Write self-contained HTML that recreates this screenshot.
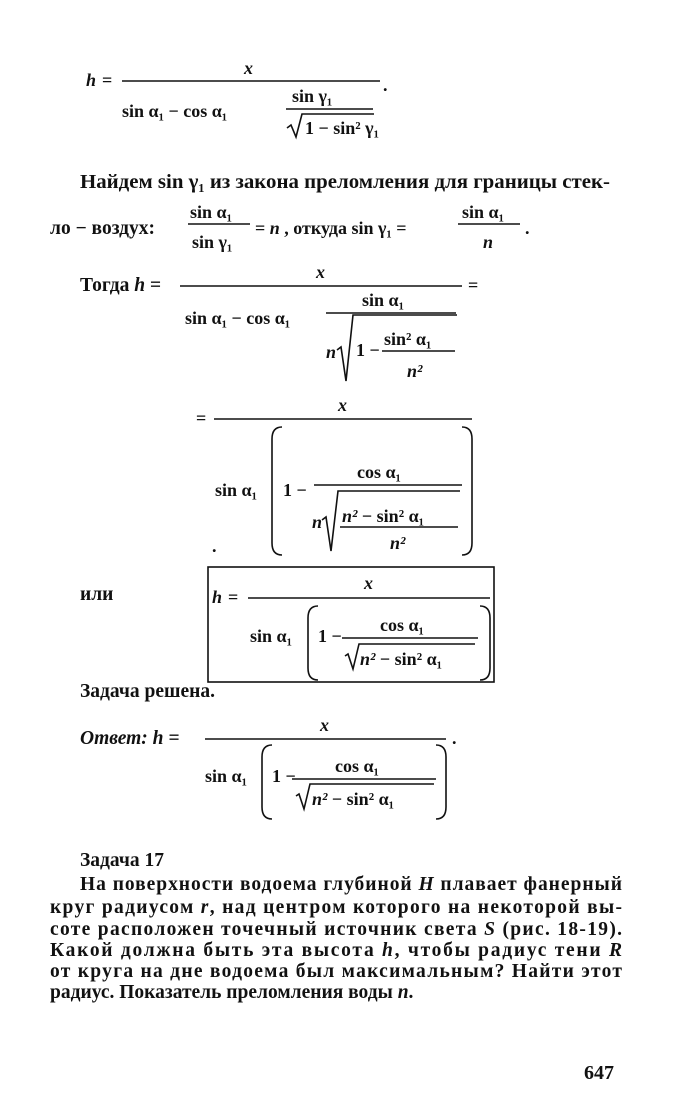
<!DOCTYPE html>
<html><head><meta charset="utf-8"><style>
html,body{margin:0;padding:0;background:#fff;}
svg{display:block}
text{font-family:"Liberation Serif",serif;font-weight:bold;font-size:18px;fill:#111}
.p{font-size:19.5px}
.i{font-style:italic}
line,path,rect{stroke:#111;fill:none;stroke-width:1.6}
</style></head><body>
<svg width="677" height="1116" viewBox="0 0 677 1116">
<text x="86" y="86" class="i">h</text><text x="102" y="86">=</text>
<line x1="122" y1="81" x2="380" y2="81"/>
<text x="244" y="74" class="i">x</text>
<text x="122" y="117">sin α₁ − cos α₁</text>
<text x="292" y="102">sin γ₁</text>
<line x1="286" y1="109" x2="373" y2="109"/>
<path d="M287,128 l4,-3 l5,12 l6,-23 h72"/>
<text x="305" y="134">1 − sin² γ₁</text>
<text x="383" y="91">.</text>

<text x="80" y="188" class="p" textLength="530" lengthAdjust="spacingAndGlyphs">Найдем sin γ₁ из закона преломления для границы стек-</text>
<text x="50" y="234" class="p">ло − воздух:</text>
<text x="190" y="218">sin α₁</text>
<line x1="188" y1="224" x2="250" y2="224"/>
<text x="192" y="248">sin γ₁</text>
<text x="255" y="234">= <tspan class="i">n</tspan> , откуда  sin γ₁ =</text>
<text x="462" y="218">sin α₁</text>
<line x1="458" y1="224" x2="520" y2="224"/>
<text x="483" y="248" class="i">n</text>
<text x="525" y="234">.</text>

<text x="80" y="291" class="p">Тогда <tspan class="i">h</tspan> =</text>
<line x1="180" y1="286" x2="462" y2="286"/>
<text x="316" y="278" class="i">x</text>
<text x="468" y="291">=</text>
<text x="185" y="324">sin α₁ − cos α₁</text>
<text x="362" y="306">sin α₁</text>
<line x1="326" y1="313" x2="456" y2="313"/>
<text x="326" y="358" class="i">n</text>
<path d="M337,350 l4,-3 l5,34 l7,-66 h104"/>
<text x="356" y="356">1 −</text>
<text x="384" y="345">sin² α₁</text>
<line x1="382" y1="351" x2="455" y2="351"/>
<text x="407" y="377" class="i">n²</text>

<text x="196" y="424">=</text>
<line x1="214" y1="419" x2="472" y2="419"/>
<text x="338" y="411" class="i">x</text>
<path d="M282,427 q-10,0 -10,12 v104 q0,12 10,12"/>
<path d="M462,427 q10,0 10,12 v104 q0,12 -10,12"/>
<text x="215" y="496">sin α₁</text>
<text x="283" y="496">1 −</text>
<text x="357" y="478">cos α₁</text>
<line x1="314" y1="485" x2="462" y2="485"/>
<text x="312" y="528" class="i">n</text>
<path d="M322,520 l4,-3 l5,34 l7,-60 h122"/>
<text x="342" y="522"><tspan class="i">n²</tspan> − sin² α₁</text>
<line x1="340" y1="527" x2="458" y2="527"/>
<text x="390" y="549" class="i">n²</text>
<text x="212" y="552">.</text>

<text x="80" y="600" class="p">или</text>
<rect x="208" y="567" width="286" height="115"/>
<text x="212" y="603" class="i">h</text><text x="228" y="603">=</text>
<line x1="248" y1="598" x2="490" y2="598"/>
<text x="364" y="589" class="i">x</text>
<path d="M318,606 q-10,0 -10,12 v50 q0,12 10,12"/>
<path d="M480,606 q10,0 10,12 v50 q0,12 -10,12"/>
<text x="250" y="642">sin α₁</text>
<text x="318" y="642">1 −</text>
<text x="380" y="631">cos   α₁</text>
<line x1="342" y1="638" x2="478" y2="638"/>
<path d="M345,656 l3,-2 l5,15 l6,-25 h116"/>
<text x="360" y="665"><tspan class="i">n²</tspan> − sin² α₁</text>

<text x="80" y="697" class="p">Задача решена.</text>

<text x="80" y="744" class="i p">Ответ: h =</text>
<line x1="205" y1="739" x2="446" y2="739"/>
<text x="320" y="731" class="i">x</text>
<text x="452" y="744">.</text>
<path d="M272,745 q-10,0 -10,12 v50 q0,12 10,12"/>
<path d="M436,745 q10,0 10,12 v50 q0,12 -10,12"/>
<text x="205" y="782">sin α₁</text>
<text x="272" y="782">1 −</text>
<text x="335" y="772">cos  α₁</text>
<line x1="292" y1="779" x2="436" y2="779"/>
<path d="M296,796 l3,-2 l5,15 l6,-25 h124"/>
<text x="312" y="805"><tspan class="i">n²</tspan> − sin² α₁</text>

<text x="80" y="866" class="p">Задача 17</text>
<text x="80" y="890" class="p" textLength="542" lengthAdjust="spacing">На поверхности водоема глубиной <tspan class="i">H</tspan> плавает фанерный</text>
<text x="50" y="913" class="p" textLength="572" lengthAdjust="spacing">круг радиусом <tspan class="i">r</tspan>, над центром которого на некоторой вы-</text>
<text x="50" y="935" class="p" textLength="572" lengthAdjust="spacing">соте расположен точечный источник света <tspan class="i">S</tspan> (рис. 18-19).</text>
<text x="50" y="956" class="p" textLength="572" lengthAdjust="spacing">Какой должна быть эта высота <tspan class="i">h</tspan>, чтобы радиус тени <tspan class="i">R</tspan></text>
<text x="50" y="977" class="p" textLength="572" lengthAdjust="spacing">от круга на дне водоема был максимальным? Найти этот</text>
<text x="50" y="998" class="p">радиус. Показатель преломления воды <tspan class="i">n</tspan>.</text>

<text x="584" y="1079" style="font-size:20px">647</text>
</svg>
</body></html>
